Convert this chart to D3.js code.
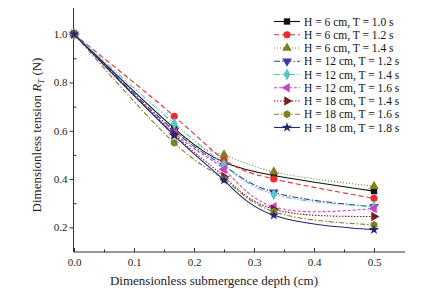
<!DOCTYPE html>
<html lang="en">
<head>
  <meta charset="UTF-8">
  <title>Dimensionless tension vs submergence depth</title>
  <style>
    body { margin: 0; background: #fff; }
    svg { display: block; font-family: 'Liberation Serif', 'Times New Roman', serif; }
    .axis path, .axis line { stroke: #333; stroke-width: 1; }
    .axis text { font-size: 11px; fill: #222; font-family: 'Liberation Serif', serif; }
    .legend text { font-size: 11.5px; fill: #111; }
  </style>
  <script src="https://d3js.org/d3.v7.min.js"></script>
</head>
<body>
  <svg id="chart" width="422" height="292"></svg>
  <script>
    // x values (dimensionless submergence depth)
    const depth = [0, 0.167, 0.25, 0.333, 0.5];

    // dimensionless tension for each wave case
    const h6t10  = [1.0, 0.61, 0.47, 0.415, 0.35];
    const h6t12  = [1.0, 0.66, 0.48, 0.40, 0.32];
    const h6t14  = [1.0, 0.60, 0.50, 0.43, 0.37];
    const h12t12 = [1.0, 0.60, 0.455, 0.345, 0.285];
    const h12t14 = [1.0, 0.63, 0.46, 0.337, 0.285];
    const h12t16 = [1.0, 0.59, 0.44, 0.285, 0.278];
    const h18t14 = [1.0, 0.585, 0.41, 0.275, 0.245];
    const h18t16 = [1.0, 0.55, 0.40, 0.265, 0.21];
    const h18t18 = [1.0, 0.58, 0.395, 0.25, 0.19];

    const labels = [
      "H = 6 cm, T = 1.0 s", "H = 6 cm, T = 1.2 s", "H = 6 cm, T = 1.4 s",
      "H = 12 cm, T = 1.2 s", "H = 12 cm, T = 1.4 s", "H = 12 cm, T = 1.6 s",
      "H = 18 cm, T = 1.4 s", "H = 18 cm, T = 1.6 s", "H = 18 cm, T = 1.8 s"
    ];
    const xTicks = [0, 0.1, 0.2, 0.3, 0.4, 0.5];
    const yTicks = [0.2, 0.4, 0.6, 0.8, 1.0];

    const values = [h6t10, h6t12, h6t14, h12t12, h12t14, h12t16, h18t14, h18t16, h18t18];
    const colors = ["#111111", "#ee2a2a", "#808020", "#3a3aa0", "#5cc4c8", "#cc44c4", "#7a1e1e", "#808028", "#262678"];
    const dashes = [null, "5,3", "1,2", "6,2,1.5,2", "6,2,1.5,2,1.5,2", "3,2", "1.5,1.5", "5,2,1.5,2", null];
    // symbol type + rotation
    const hexagon = {
      draw(ctx, size) {
        const r = Math.sqrt(size / 2.598);
        for (let i = 0; i < 6; i++) {
          const a = Math.PI / 3 * i + Math.PI / 6;
          i ? ctx.lineTo(r * Math.cos(a), r * Math.sin(a)) : ctx.moveTo(r * Math.cos(a), r * Math.sin(a));
        }
        ctx.closePath();
      }
    };
    const shapes = [
      [d3.symbolSquare, 0], [d3.symbolCircle, 0], [d3.symbolTriangle, 0],
      [d3.symbolTriangle, 180], [d3.symbolDiamond, 0], [d3.symbolTriangle, -90],
      [d3.symbolTriangle, 90], [hexagon, 0], [d3.symbolStar, 0]
    ];

    const svg = d3.select("#chart");
    const x = d3.scaleLinear().domain([0, 0.55]).range([74, 404]);
    const y = d3.scaleLinear().domain([0.1, 1.1]).range([251.5, 10]);

    // axes
    svg.append("g").attr("class", "axis")
      .attr("transform", "translate(0,252)")
      .call(d3.axisBottom(x).tickValues(xTicks).tickFormat(d3.format(".1f")).tickSize(-4).tickPadding(4).tickSizeOuter(0))
      .call(g => g.selectAll("text").attr("dy", "0.9em"))
      .call(g => g.select(".domain").attr("d", "M74,0H405"));
    svg.append("g").attr("class", "axis")
      .attr("transform", "translate(0,252)")
      .call(d3.axisBottom(x).tickValues(d3.range(0.05, 0.55, 0.1)).tickFormat("").tickSize(-2.5).tickSizeOuter(0))
      .call(g => g.select(".domain").remove());

    svg.append("g").attr("class", "axis")
      .attr("transform", "translate(73.5,0)")
      .call(d3.axisLeft(y).tickValues(yTicks).tickFormat(d3.format(".1f")).tickSize(4).tickPadding(2).tickSizeOuter(0))
      .call(g => g.select(".domain").attr("d", "M0,8V252"));
    svg.append("g").attr("class", "axis")
      .attr("transform", "translate(73.5,0)")
      .call(d3.axisRight(y).tickValues([0.3, 0.5, 0.7, 0.9]).tickFormat("").tickSize(3).tickSizeOuter(0))
      .call(g => g.select(".domain").remove());

    // axis titles
    svg.append("text")
      .attr("x", 214).attr("y", 285)
      .attr("text-anchor", "middle").attr("font-size", 13).attr("fill", "#222")
      .text("Dimensionless submergence depth (cm)");
    const yt = svg.append("text")
      .attr("transform", "translate(41,135) rotate(-90)")
      .attr("text-anchor", "middle").attr("font-size", 13).attr("fill", "#222");
    yt.append("tspan").text("Dimensionless tension ");
    yt.append("tspan").attr("font-style", "italic").text("R");
    yt.append("tspan").attr("font-style", "italic").attr("font-size", 9).attr("dy", 3).text("T");
    yt.append("tspan").attr("dy", -3).text(" (N)");

    // series
    const line = d3.line().x((d, i) => x(depth[i])).y(d => y(d)).curve(d3.curveNatural);
    const symbolPath = (k) => d3.symbol().type(shapes[k][0]).size(k === 8 ? 32 : 40)();

    values.forEach((vals, k) => {
      svg.append("path")
        .attr("d", line(vals))
        .attr("fill", "none")
        .attr("stroke", colors[k])
        .attr("stroke-width", 1.1)
        .attr("stroke-dasharray", dashes[k]);
      svg.selectAll(null).data(vals).enter().append("path")
        .attr("d", symbolPath(k))
        .attr("transform", (d, i) => `translate(${x(depth[i])},${y(d)}) rotate(${shapes[k][1]})`)
        .attr("fill", colors[k]);
    });

    // legend
    const legend = svg.append("g").attr("class", "legend");
    labels.forEach((lab, k) => {
      const ly = 21.5 + k * 13.25;
      legend.append("line")
        .attr("x1", 274).attr("x2", 300).attr("y1", ly).attr("y2", ly)
        .attr("stroke", colors[k]).attr("stroke-width", 1.1)
        .attr("stroke-dasharray", dashes[k]);
      legend.append("path")
        .attr("d", symbolPath(k))
        .attr("transform", `translate(287,${ly}) rotate(${shapes[k][1]})`)
        .attr("fill", colors[k]);
      legend.append("text")
        .attr("x", 304).attr("y", ly + 4)
        .text(lab);
    });
  </script>
</body>
</html>
